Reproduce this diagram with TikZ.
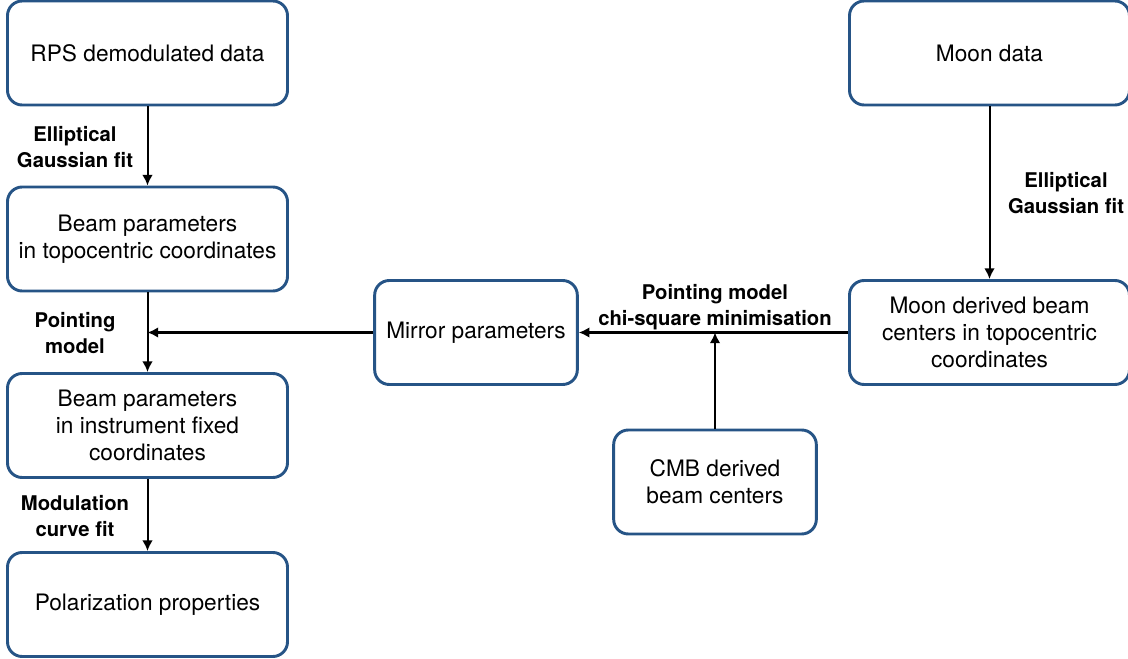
\documentclass[tikz,border=0pt]{standalone}
\usepackage{fontspec}
\setmainfont{TeX Gyre Heros}
\usetikzlibrary{arrows.meta}
\definecolor{boxblue}{RGB}{38,84,134}

\tikzset{every picture/.style={line width=0.75pt}}
\tikzset{
  stagebox/.style={draw=boxblue, line width=2.2pt, rounded corners=11pt, fill=white,
    align=center, font=\fontsize{17}{20}\selectfont, inner sep=2pt},
  bigbox/.style={stagebox, minimum width=210pt, minimum height=78pt},
  smallbox/.style={stagebox, minimum width=152pt, minimum height=78pt},
  steplabel/.style={align=center, font=\bfseries\fontsize{15.2}{20}\selectfont},
  flow/.style={line width=1.5pt, -{Latex[length=8pt,width=8pt]}}
}

\begin{document}
\begin{tikzpicture}[x=0.75pt,y=0.75pt,yscale=-1,xscale=1]
    \useasboundingbox (0,0) rectangle (1128,659);

    %left column
    \node [bigbox] (rps) at (147.5,53) {RPS demodulated data};
    \node [bigbox] (topo) at (147.5,239) {Beam parameters\\in topocentric coordinates};
    \node [bigbox] (instr) at (147.5,425.5) {Beam parameters\\in instrument fixed\\coordinates};
    \node [bigbox] (pol) at (147.5,604.5) {Polarization properties};

    %right part
    \node [bigbox] (moon) at (989.5,53) {Moon data};
    \node [bigbox] (moonbeam) at (989.5,332.5) {Moon derived beam\\centers in topocentric\\coordinates};
    \node [smallbox] (mirror) at (476,332.5) {Mirror parameters};
    \node [smallbox] (cmb) at (715,482) {CMB derived\\beam centers};

    %joins on the lines
    \coordinate (pjoin) at (147.5,332.5);
    \coordinate (cjoin) at (715,332.5);

    %arrows
    \draw [flow] (rps) -- (topo);
    \draw [flow] (topo) -- (instr);
    \draw [flow] (instr) -- (pol);
    \draw [flow] (moon) -- (moonbeam);
    \draw [flow] (moonbeam) -- (mirror);
    \draw [flow] (mirror) -- (pjoin);
    \draw [flow] (cmb) -- (cjoin);

    %labels
    \node [steplabel] (fitone) at (75,147) {Elliptical\\Gaussian fit};
    \node [steplabel] (pmodel) at (75,333) {Pointing\\model};
    \node [steplabel] (modfit) at (75,516) {Modulation\\curve fit};
    \node [steplabel] (chisq) at (715,307) {Pointing model\\chi-square minimisation};
    \node [steplabel] (fittwo) at (1066,193) {Elliptical\\Gaussian fit};

\end{tikzpicture}
\end{document}
